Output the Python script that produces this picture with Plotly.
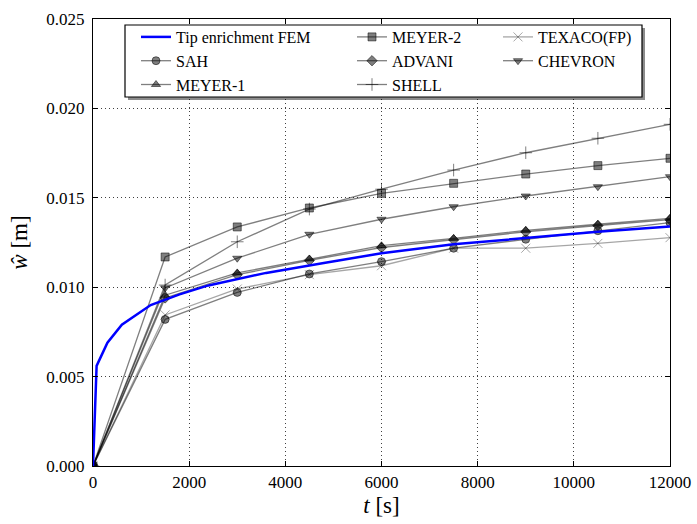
import plotly.graph_objects as go

t_fem = [0, 75, 300, 600, 1200, 1800, 2400, 3000, 3600, 4800, 6000, 7500, 9000, 10500, 12000]
w_fem = [0, 0.0056, 0.0069, 0.0079, 0.0090, 0.0096, 0.0101, 0.01045, 0.0108, 0.01135,
         0.01190, 0.01240, 0.01275, 0.0131, 0.01340]

t_ref = [0, 1500, 3000, 4500, 6000, 7500, 9000, 10500, 12000]
w_sah = [0, 0.0082, 0.00971, 0.01074, 0.01143, 0.01218, 0.01268, 0.01316, 0.01361]
w_meyer1 = [0, 0.00955, 0.0108, 0.01158, 0.01232, 0.01273, 0.01318, 0.01352, 0.01385]
w_meyer2 = [0, 0.01169, 0.01337, 0.01443, 0.01525, 0.01581, 0.01633, 0.0168, 0.01721]
w_advani = [0, 0.0094, 0.0107, 0.0115, 0.01222, 0.01265, 0.01310, 0.01345, 0.01378]
w_shell = [0, 0.01012, 0.01254, 0.01437, 0.01548, 0.01655, 0.01752, 0.01833, 0.01911]
w_texaco = [0, 0.00845, 0.0099, 0.0107, 0.0112, 0.01218, 0.01218, 0.01245, 0.01277]
w_chevron = [0, 0.00996, 0.01162, 0.01296, 0.0138, 0.0145, 0.0151, 0.01562, 0.01618]

x_ticks = [0, 2000, 4000, 6000, 8000, 10000, 12000]
y_ticks = [0.0, 0.005, 0.010, 0.015, 0.020, 0.025]

FONT = "'Liberation Serif', 'Times New Roman', Times, serif"
gray = "rgba(0,0,0,0.5)"

fig = go.Figure()

series = [
    # name, data, symbol, legend, rank, color
    ("SAH", w_sah, "circle", "legend", 2, gray),
    ("MEYER-1", w_meyer1, "triangle-up", "legend", 3, gray),
    ("MEYER-2", w_meyer2, "square", "legend2", 1, gray),
    ("ADVANI", w_advani, "diamond", "legend2", 2, gray),
    ("SHELL", w_shell, "cross-thin", "legend2", 3, gray),
    ("TEXACO(FP)", w_texaco, "x-thin", "legend3", 1, "rgba(0,0,0,0.35)"),
    ("CHEVRON", w_chevron, "triangle-down", "legend3", 2, gray),
]

for name, w, sym, leg, rank, col in series:
    thin = sym.endswith("thin")
    fig.add_trace(go.Scatter(
        x=t_ref, y=w, name=name, mode="lines+markers",
        line=dict(color=col, width=1.3),
        marker=dict(symbol=sym, size=9 if thin else 8, color=col,
                    line=dict(color=col, width=1)),
        legend=leg, legendrank=rank,
    ))

fig.add_trace(go.Scatter(
    x=t_fem, y=w_fem, name="Tip enrichment FEM", mode="lines",
    line=dict(color="#0000ff", width=2.5), legend="legend", legendrank=1,
))

PW, PH = 577.0, 447.0
L0, T0 = 93.0, 19.0


def px(x):
    return (x - L0) / PW


def py(y):
    return (T0 + PH - y) / PH


leg_common = dict(
    orientation="v", yanchor="top", xanchor="left",
    bgcolor="rgba(0,0,0,0)", borderwidth=0,
    font=dict(family=FONT, size=16), tracegroupgap=0, itemwidth=30,
)

fig.update_layout(
    width=697, height=524,
    margin=dict(l=93, r=27, t=19, b=58),
    paper_bgcolor="white", plot_bgcolor="white",
    font=dict(family=FONT, size=17, color="black"),
    showlegend=True,
    legend=dict(x=px(136), y=py(20), **leg_common),
    legend2=dict(x=px(352), y=py(20), **leg_common),
    legend3=dict(x=px(498), y=py(20), **leg_common),
    shapes=[
        dict(type="rect", xref="paper", yref="paper",
             x0=px(128), x1=px(645), y0=py(100), y1=py(28),
             fillcolor="rgba(0,0,0,0.45)", line=dict(width=0), layer="above"),
        dict(type="rect", xref="paper", yref="paper",
             x0=px(125), x1=px(642), y0=py(97), y1=py(25),
             fillcolor="white", line=dict(color="black", width=1.2), layer="above"),
    ],
)

axis_common = dict(
    showline=True, linecolor="black", linewidth=1.2, mirror="ticks",
    ticks="inside", ticklen=5, tickcolor="black",
    showgrid=True, gridcolor="rgba(0,0,0,0.75)", griddash="1px,3px", gridwidth=1,
    zeroline=False, tickfont=dict(family=FONT, size=17), automargin=False,
)

fig.update_xaxes(range=[0, 12000], tickvals=x_ticks, tickformat="d",
                 title=dict(text="<i>t</i> [s]", font=dict(family=FONT, size=23), standoff=6),
                 **axis_common)
fig.update_yaxes(range=[0, 0.025], tickvals=y_ticks, tickformat=".3f", ticklabelstandoff=4,
                 title=dict(text="<i>ŵ</i> [m]", font=dict(family=FONT, size=23), standoff=12),
                 **axis_common)

fig.write_html("out.html", config={"displayModeBar": False},
               post_script="document.body.style.margin='0';document.body.style.padding='0';")
